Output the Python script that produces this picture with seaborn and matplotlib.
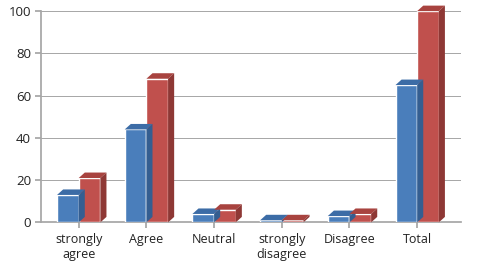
import matplotlib
matplotlib.use("Agg")
import matplotlib.pyplot as plt
from matplotlib.patches import Polygon
import seaborn as sns
import pandas as pd
import numpy as np

categories = ["strongly\nagree", "Agree", "Neutral", "strongly\ndisagree", "Disagree", "Total"]
series_a = [13, 44, 4, 1, 3, 65]
series_b = [21, 68, 6, 1, 4, 100]
series_names = ["Series A", "Series B"]
yticks = [0, 20, 40, 60, 80, 100]

face_colors = ["#4A7EBB", "#C0504D"]
side_colors = ["#345E91", "#8E3835"]
top_colors = ["#3C6CA6", "#A8433F"]

df = pd.DataFrame({
    "category": categories * 2,
    "value": series_a + series_b,
    "series": [series_names[0]] * len(categories) + [series_names[1]] * len(categories),
})

sns.set_theme(style="white")
plt.rcParams["font.family"] = ["Open Sans", "DejaVu Sans"]

fig = plt.figure(figsize=(4.88, 2.78), dpi=100)
ax = fig.add_axes([0.085, 0.2, 0.86, 0.76])

sns.barplot(data=df, x="category", y="value", hue="series", palette=face_colors,
            width=0.64, ax=ax, legend=False, saturation=1, zorder=3)

ax.set_ylim(0, 100)
ax.set_xlim(-0.55, len(categories) - 0.35)
ax.set_yticks(yticks)
ax.set_xlabel("")
ax.set_ylabel("")

# gridlines
for t in yticks:
    ax.axhline(t, color="#A6A6A6", lw=0.7, zorder=1)

# 3D-like depth faces
dx, dy = 0.09, 2.6
for i, container in enumerate(ax.containers):
    for bar in container:
        x0 = bar.get_x()
        w = bar.get_width()
        h = bar.get_height()
        top = Polygon([(x0, h), (x0 + dx, h + dy), (x0 + w + dx, h + dy), (x0 + w, h)],
                      closed=True, facecolor=top_colors[i], edgecolor="none", zorder=3,
                      clip_on=False)
        side = Polygon([(x0 + w, 0), (x0 + w + dx, dy), (x0 + w + dx, h + dy), (x0 + w, h)],
                       closed=True, facecolor=side_colors[i], edgecolor="none", zorder=3,
                       clip_on=False)
        ax.add_patch(top)
        ax.add_patch(side)

for s in ["top", "right"]:
    ax.spines[s].set_visible(False)
ax.spines["left"].set_color("#A6A6A6")
ax.spines["bottom"].set_color("#A6A6A6")
ax.tick_params(axis="y", length=4, color="#A6A6A6", labelsize=9.5, labelcolor="#222222", left=True)
ax.tick_params(axis="x", length=4, color="#A6A6A6", labelsize=9, labelcolor="#222222", bottom=True)

fig.savefig("out.png", dpi=100, facecolor="white")
